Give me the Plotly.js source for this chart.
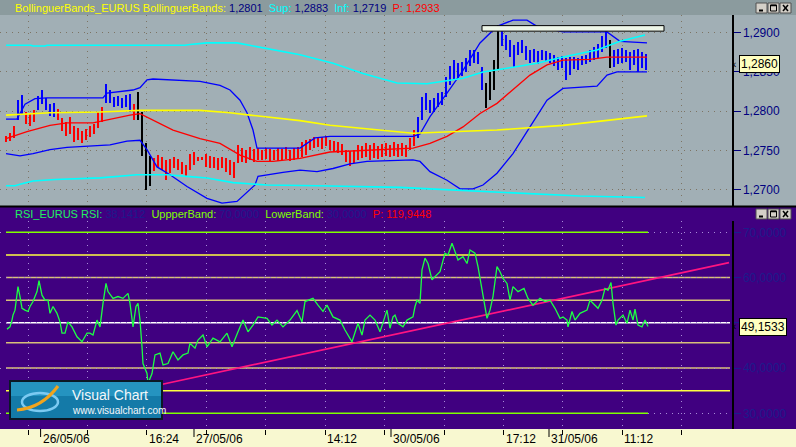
<!DOCTYPE html>
<html><head><meta charset="utf-8">
<script src="https://cdn.plot.ly/plotly-3.0.1.min.js"></script>
<style>html,body{margin:0;padding:0;background:#f8f8d0;overflow:hidden}#chart{width:796px;height:447px}</style>
</head><body><div id="chart"></div>
<script>
// ---------------- DATA ----------------
// price bars, one sample every 4 bars (x = bar number)
const barStep = 4;
const priceHigh = [
1.2768,1.2772,1.2781,1.2814,1.2821,1.2799,1.2798,1.2802,1.2819,1.2827,
1.2817,1.2809,1.2810,1.2803,1.2791,1.2786,1.2793,1.2781,1.2779,1.2775,
1.2777,1.2781,1.2784,1.2799,1.2805,1.2835,1.2827,1.2818,1.2819,1.2817,
1.2821,1.2822,1.2809,1.2824,1.2799,1.2759,1.2743,1.2740,1.2744,1.2742,
1.2738,1.2739,1.2742,1.2739,1.2735,1.2731,1.2745,1.2748,1.2742,1.2742,
1.2745,1.2743,1.2742,1.2740,1.2742,1.2740,1.2738,1.2735,1.2757,1.2753,
1.2751,1.2754,1.2752,1.2753,1.2751,1.2753,1.2752,1.2751,1.2753,1.2752,
1.2754,1.2751,1.2753,1.2754,1.2761,1.2763,1.2765,1.2767,1.2766,1.2767,
1.2768,1.2763,1.2762,1.2761,1.2758,1.2751,1.2749,1.2751,1.2757,1.2756,
1.2759,1.2757,1.2759,1.2756,1.2758,1.2759,1.2757,1.2761,1.2758,1.2759,
1.2757,1.2766,1.2776,1.2793,1.2818,1.2823,1.2814,1.2817,1.2823,1.2824,
1.2844,1.2858,1.2865,1.2861,1.2863,1.2868,1.2878,1.2878,1.2875,1.2856,
1.2836,1.2850,1.2865,1.2910,1.2903,1.2897,1.2891,1.2884,1.2888,1.2891,
1.2883,1.2878,1.2879,1.2877,1.2878,1.2877,1.2874,1.2872,1.2869,1.2870,
1.2868,1.2869,1.2869,1.2868,1.2870,1.2872,1.2878,1.2882,1.2886,1.2896,
1.2903,1.2891,1.2878,1.2879,1.2881,1.2878,1.2875,1.2878,1.2879,1.2875,
1.2873];
const priceLow = [
1.2761,1.2762,1.2766,1.2789,1.2796,1.2784,1.2781,1.2786,1.2802,1.2809,
1.2802,1.2794,1.2793,1.2789,1.2775,1.2768,1.2771,1.2761,1.2763,1.2759,
1.2763,1.2767,1.2771,1.2779,1.2786,1.2810,1.2810,1.2805,1.2807,1.2804,
1.2805,1.2799,1.2789,1.2789,1.2743,1.2700,1.2705,1.2724,1.2729,1.2725,
1.2712,1.2721,1.2728,1.2725,1.2720,1.2717,1.2725,1.2731,1.2737,1.2738,
1.2729,1.2728,1.2728,1.2725,1.2728,1.2723,1.2719,1.2715,1.2734,1.2735,
1.2734,1.2738,1.2735,1.2738,1.2738,1.2739,1.2737,1.2738,1.2737,1.2738,
1.2739,1.2737,1.2738,1.2740,1.2742,1.2744,1.2751,1.2753,1.2754,1.2752,
1.2756,1.2751,1.2748,1.2747,1.2744,1.2735,1.2730,1.2734,1.2738,1.2740,
1.2742,1.2738,1.2740,1.2739,1.2742,1.2743,1.2742,1.2743,1.2742,1.2743,
1.2742,1.2751,1.2756,1.2766,1.2789,1.2802,1.2798,1.2799,1.2805,1.2808,
1.2818,1.2833,1.2840,1.2842,1.2845,1.2850,1.2858,1.2861,1.2860,1.2827,
1.2804,1.2814,1.2827,1.2852,1.2883,1.2878,1.2869,1.2856,1.2872,1.2874,
1.2865,1.2861,1.2863,1.2860,1.2865,1.2864,1.2861,1.2858,1.2852,1.2855,
1.2840,1.2846,1.2854,1.2852,1.2859,1.2860,1.2863,1.2865,1.2868,1.2875,
1.2881,1.2855,1.2856,1.2860,1.2861,1.2863,1.2852,1.2859,1.2850,1.2855,
1.2852];

// Bollinger middle (red)
const midX = [0,21,44,61,87,104,124,134,147,167,194,214,234,251,267,294,324,354,407,424,441,457,474,491,507,524,541,557,584,601,624,641];
const midY = [1.2765,1.2774,1.2782,1.2785,1.2785,1.2790,1.2795,1.2797,1.2789,1.2776,1.2765,1.2759,1.2744,1.2736,1.2736,1.2740,1.2748,1.2750,1.2753,1.2759,1.2768,1.2780,1.2797,1.2810,1.2827,1.2846,1.2859,1.2865,1.2866,1.2869,1.2869,1.2869];
// Bollinger upper (blue)
const upX = [0,11,19,29,41,97,101,127,134,141,147,194,214,224,234,241,247,251,294,309,324,407,414,424,441,457,474,491,507,521,531,557,601,614,641];
const upY = [1.2790,1.2790,1.2809,1.2816,1.2817,1.2817,1.2823,1.2827,1.2830,1.2840,1.2841,1.2838,1.2833,1.2827,1.2814,1.2798,1.2776,1.2753,1.2753,1.2766,1.2768,1.2768,1.2771,1.2793,1.2823,1.2852,1.2887,1.2908,1.2916,1.2916,1.2908,1.2901,1.2901,1.2889,1.2887];
// Bollinger lower (blue)
const loX = [0,14,27,37,44,61,81,104,121,134,141,151,164,181,201,216,231,241,249,252,261,277,294,311,327,344,361,407,414,424,441,454,467,477,491,507,524,541,557,591,601,611,641];
const loY = [1.2746,1.2743,1.2746,1.2749,1.2751,1.2754,1.2755,1.2757,1.2762,1.2763,1.2751,1.2729,1.2719,1.2704,1.2689,1.2683,1.2685,1.2696,1.2706,1.2717,1.2719,1.2722,1.2725,1.2723,1.2727,1.2733,1.2736,1.2738,1.2736,1.2723,1.2712,1.2701,1.2701,1.2706,1.2721,1.2746,1.2780,1.2814,1.2829,1.2832,1.2846,1.2850,1.2850];
// long average (yellow)
const longX = [0,19,44,94,134,194,224,244,294,324,407,491,557,641];
const longY = [1.2795,1.2796,1.2798,1.2799,1.2801,1.2801,1.2798,1.2795,1.2788,1.2782,1.2772,1.2776,1.2782,1.2794];
// envelope (cyan)
const envUpX = [0,25,27,39,41,179,184,201,231,261,294,327,357,391,421,457,477,507,531,557,591,614,639];
const envUpY = [1.2884,1.2884,1.2883,1.2883,1.2884,1.2884,1.2885,1.2887,1.2887,1.2880,1.2872,1.2861,1.2848,1.2836,1.2835,1.2842,1.2850,1.2856,1.2861,1.2869,1.2878,1.2889,1.2897];
const envLoX = [0,9,14,27,49,94,131,161,181,201,227,261,311,394,424,494,574,639];
const envLoY = [1.2705,1.2705,1.2707,1.2711,1.2713,1.2715,1.2719,1.2719,1.2717,1.2715,1.2709,1.2706,1.2705,1.2703,1.2701,1.2697,1.2692,1.2690];

// RSI
const rsiX = [
1,4,6,7,9,11,12,14,16,19,
22,24,27,31,33,36,39,42,44,47,
51,54,56,59,62,66,71,76,81,84,
87,91,94,97,100,102,107,112,117,122,
124,127,130,132,134,136,137,141,142,146,
149,154,157,162,167,172,177,182,184,189,
192,197,201,207,214,221,226,232,237,242,
247,252,261,266,271,277,284,291,296,299,
307,312,317,321,327,334,339,346,352,356,
359,364,369,374,379,381,384,387,389,392,
397,401,407,409,411,414,416,419,422,426,
429,434,439,442,446,449,452,457,461,464,
469,472,476,479,481,484,487,491,494,497,
501,504,507,512,518,522,527,534,539,544,
549,554,557,561,562,566,569,574,581,584,
589,592,596,599,602,605,607,610,612,617,
621,624,627,629,632,636,639,642];
const rsiY = [
48.6,49.1,50.6,51.7,52.8,57.2,58.0,55.8,53.2,52.8,
52.5,53.6,54.7,56.9,59.3,56.1,55.0,55.0,52.1,53.6,
52.1,50.2,47.7,47.7,50.2,49.1,46.9,45.8,47.7,47.7,
47.3,50.6,49.1,54.3,58.7,56.9,55.4,55.8,55.4,56.5,
54.3,49.1,53.6,54.3,50.6,44.7,41.0,38.8,36.6,38.8,
42.9,43.3,40.7,41.0,43.6,41.8,42.9,43.3,45.5,44.4,
46.2,47.3,44.7,46.6,45.8,47.7,44.7,48.0,50.6,48.0,
49.5,51.3,51.0,49.5,50.6,49.1,50.6,52.7,50.2,54.7,
55.4,53.9,52.5,53.9,51.3,50.6,48.4,45.8,49.9,47.3,
50.6,51.7,50.6,48.0,51.5,52.8,48.8,51.3,51.7,49.9,
49.1,50.6,51.3,53.6,55.0,54.3,61.7,64.3,63.1,59.5,
60.2,61.3,65.4,65.0,67.6,65.7,63.9,64.6,63.1,66.1,
65.4,62.4,57.2,53.6,51.0,52.8,55.8,62.4,61.3,59.8,
58.7,55.0,58.0,56.9,57.6,55.4,53.9,55.4,54.7,55.0,
53.2,51.0,51.3,50.6,49.1,52.5,50.6,52.1,52.8,55.0,
53.9,53.2,55.0,57.6,57.2,58.9,54.3,49.5,50.6,51.7,
49.9,52.8,50.6,53.0,49.5,49.1,50.6,49.2];
const rsiBandX = [0, 642];
const rsiUpperBand = 70, rsiLowerBand = 30;
const rsiLevels = [65, 60, 55, 50, 45.6, 40, 35];
const rsiLevelX = [0, 724];
const trendX = [139, 723];
const trendY = [35.6, 63.3];
const boxX = [476, 658];
const boxY = [1.2902, 1.2909];

const priceTicks = [1.27, 1.275, 1.28, 1.285, 1.29];
const rsiTicks = [30, 40, 50, 60, 70];
const gridTicks = [22.3, 81.3, 140.7, 200, 259.7, 319, 378.3, 438, 497.5, 556.9, 616.3, 675.3];
const dayTicks = [34.6, 188, 385, 543];
const labelPos = [34.6, 140.7, 188, 319, 385, 497.5, 543, 616.3];
const labelText = ['26/05/06', '16:24', '27/05/06', '14:12', '30/05/06', '17:12', '31/05/06', '11:12'];
const lastPrice = 1.2860, lastRsi = 49.1533;
const topHeader = {name: 'BollinguerBands_EURUS BollinguerBands:', mid: '1,2801', sup: '1,2883', inf: '1,2719', p: '1,2933'};
const rsiHeader = {name: 'RSI_EURUS RSI:', rsi: '38,1412', up: '70,0000', low: '30,0000', p: '119,9448'};

// ---------------- DRAWING ----------------
const W = 796, H = 447;
const PX = x => x / W;
const PY = y => 1 - y / H;
const FONT = 'Liberation Sans, Arial, sans-serif';

function interp(xs, ys, x) {
  if (x <= xs[0]) return ys[0];
  for (let i = 1; i < xs.length; i++) {
    if (x <= xs[i]) { const t = (x - xs[i-1]) / (xs[i] - xs[i-1]); return ys[i-1] + t * (ys[i] - ys[i-1]); }
  }
  return ys[ys.length - 1];
}
const barX = priceHigh.map((_, i) => i * barStep);
// bar colour: blue above the long (yellow) average, red below, black for very wide bars
const barColors = priceHigh.map((h, i) => {
  const l = priceLow[i];
  if (h - l > 0.0030) return '#000000';
  return ((h + l) / 2 > interp(longX, longY, barX[i])) ? '#0000ff' : '#ff0000';
});

const traces = [
  {type: 'bar', x: barX, y: priceHigh.map((h, i) => h - priceLow[i]), base: priceLow, width: 2.8,
   marker: {color: barColors, line: {width: 0}}, xaxis: 'x', yaxis: 'y', hoverinfo: 'skip'},
  {type: 'scatter', mode: 'lines', x: upX, y: upY, line: {color: '#0000ff', width: 1.3}, xaxis: 'x', yaxis: 'y'},
  {type: 'scatter', mode: 'lines', x: loX, y: loY, line: {color: '#0000ff', width: 1.3}, xaxis: 'x', yaxis: 'y'},
  {type: 'scatter', mode: 'lines', x: midX, y: midY, line: {color: '#ff0000', width: 1.3}, xaxis: 'x', yaxis: 'y'},
  {type: 'scatter', mode: 'lines', x: longX, y: longY, line: {color: '#ffff00', width: 1.6}, xaxis: 'x', yaxis: 'y'},
  {type: 'scatter', mode: 'lines', x: envUpX, y: envUpY, line: {color: '#00ffff', width: 1.6}, xaxis: 'x', yaxis: 'y'},
  {type: 'scatter', mode: 'lines', x: envLoX, y: envLoY, line: {color: '#00ffff', width: 1.6}, xaxis: 'x', yaxis: 'y'},
  {type: 'scatter', mode: 'lines', x: trendX, y: trendY, line: {color: '#ff1480', width: 1.6}, xaxis: 'x2', yaxis: 'y2'},
  {type: 'scatter', mode: 'lines', x: rsiBandX, y: [rsiUpperBand, rsiUpperBand], line: {color: '#80ff00', width: 1.6}, xaxis: 'x2', yaxis: 'y2'},
  {type: 'scatter', mode: 'lines', x: rsiBandX, y: [rsiLowerBand, rsiLowerBand], line: {color: '#80ff00', width: 1.6}, xaxis: 'x2', yaxis: 'y2'},
  {type: 'scatter', mode: 'lines', x: rsiX, y: rsiY, line: {color: '#1cff44', width: 1.3}, xaxis: 'x2', yaxis: 'y2'}
];

const levelColor = v => (v === 50 ? '#ffffff' : (v === 65 || v === 35) ? '#ffff40' : '#d8c078');

const shapes = [
  {type: 'rect', xref: 'paper', yref: 'paper', x0: 0, x1: 1, y0: PY(206), y1: 1, fillcolor: '#a1afb5', line: {width: 0}, layer: 'below'},
  {type: 'rect', xref: 'paper', yref: 'paper', x0: 0, x1: 1, y0: PY(15), y1: 1, fillcolor: '#8b9b9e', line: {width: 0}, layer: 'below'},
  {type: 'rect', xref: 'paper', yref: 'paper', x0: 0, x1: 1, y0: PY(429), y1: PY(207), fillcolor: '#400080', line: {width: 0}, layer: 'below'},
  {type: 'line', xref: 'paper', yref: 'paper', x0: 0, x1: 1, y0: PY(206.5), y1: PY(206.5), line: {color: '#000000', width: 2}, layer: 'below'}
];
rsiLevels.forEach(v => shapes.push({type: 'line', xref: 'x2', yref: 'y2', x0: rsiLevelX[0], x1: rsiLevelX[1], y0: v, y1: v,
  line: {color: levelColor(v), width: 1.5}, layer: 'below'}));
shapes.push({type: 'rect', xref: 'x', yref: 'y', x0: boxX[0], x1: boxX[1], y0: boxY[0], y1: boxY[1], fillcolor: '#eef6e8', line: {color: '#000000', width: 1}});
dayTicks.forEach(d => shapes.push({type: 'line', xref: 'x2', yref: 'paper', x0: d, x1: d, y0: PY(429), y1: PY(437), line: {color: '#000000', width: 1}}));

function buttons(y0) {
  [756, 768, 780].forEach((bx, k) => {
    shapes.push({type: 'rect', xref: 'paper', yref: 'paper', x0: PX(bx), x1: PX(bx + 11), y0: PY(y0 + 10), y1: PY(y0), fillcolor: '#d4d0c8', line: {color: '#505050', width: 1}});
    if (k === 0) shapes.push({type: 'line', xref: 'paper', yref: 'paper', x0: PX(bx + 3), x1: PX(bx + 7), y0: PY(y0 + 7.5), y1: PY(y0 + 7.5), line: {color: '#000', width: 2}});
    if (k === 1) {
      shapes.push({type: 'rect', xref: 'paper', yref: 'paper', x0: PX(bx + 2.5), x1: PX(bx + 8.5), y0: PY(y0 + 8), y1: PY(y0 + 2), line: {color: '#000', width: 1}});
      shapes.push({type: 'line', xref: 'paper', yref: 'paper', x0: PX(bx + 2.5), x1: PX(bx + 8.5), y0: PY(y0 + 2.5), y1: PY(y0 + 2.5), line: {color: '#000', width: 1.5}});
    }
    if (k === 2) {
      shapes.push({type: 'line', xref: 'paper', yref: 'paper', x0: PX(bx + 3), x1: PX(bx + 8), y0: PY(y0 + 2), y1: PY(y0 + 8), line: {color: '#000', width: 1.5}});
      shapes.push({type: 'line', xref: 'paper', yref: 'paper', x0: PX(bx + 8), x1: PX(bx + 3), y0: PY(y0 + 2), y1: PY(y0 + 8), line: {color: '#000', width: 1.5}});
    }
  });
}
buttons(3);
buttons(209);

// logo
shapes.push({type: 'rect', xref: 'paper', yref: 'paper', x0: PX(10), x1: PX(162), y0: PY(419), y1: PY(381), fillcolor: '#147aa8', line: {color: '#0b1826', width: 2}});
shapes.push({type: 'rect', xref: 'paper', yref: 'paper', x0: PX(11), x1: PX(161), y0: PY(396), y1: PY(382), fillcolor: '#2593c0', line: {width: 0}});
shapes.push({type: 'circle', xref: 'paper', yref: 'paper', x0: PX(22), x1: PX(58), y0: PY(411), y1: PY(393), line: {color: '#7ccaf2', width: 2.5}});
shapes.push({type: 'path', xref: 'paper', yref: 'paper',
  path: `M ${PX(17)} ${PY(410)} Q ${PX(42)} ${PY(408)} ${PX(58)} ${PY(386)}`, line: {color: '#f2a41c', width: 3}});

const fmt = v => v.toFixed(4).replace('.', ',');
const annotations = [
  {xref: 'paper', yref: 'paper', x: PX(13), y: PY(7.5), xanchor: 'left', yanchor: 'middle', showarrow: false,
   font: {family: FONT, size: 11, color: '#ffff00'},
   text: `<span style="color:#ffff00">${topHeader.name}</span> <span style="color:#000080">${topHeader.mid}</span>  <span style="color:#00ffff">Sup:</span> <span style="color:#000080">${topHeader.sup}</span>  <span style="color:#00ffff">Inf:</span> <span style="color:#000080">${topHeader.inf}</span>  <span style="color:#ff0000">P: ${topHeader.p}</span>`},
  {xref: 'paper', yref: 'paper', x: PX(13), y: PY(214), xanchor: 'left', yanchor: 'middle', showarrow: false,
   font: {family: FONT, size: 11, color: '#20f060'},
   text: `<span style="color:#20f060">${rsiHeader.name}</span> <span style="color:#1c1c8c">${rsiHeader.rsi}</span>  <span style="color:#80ff00">UppperBand:</span> <span style="color:#1c1c8c">${rsiHeader.up}</span>  <span style="color:#80ff00">LowerBand:</span> <span style="color:#1c1c8c">${rsiHeader.low}</span>  <span style="color:#ff0000">P: ${rsiHeader.p}</span>`},
  {xref: 'paper', yref: 'y', x: PX(739), y: lastPrice, xanchor: 'left', yanchor: 'middle', showarrow: false,
   text: fmt(lastPrice), bgcolor: '#ffffc0', bordercolor: '#000000', borderwidth: 1, borderpad: 1,
   font: {family: FONT, size: 12, color: '#000000'}},
  {xref: 'paper', yref: 'y2', x: PX(739), y: lastRsi, xanchor: 'left', yanchor: 'middle', showarrow: false,
   text: fmt(lastRsi), bgcolor: '#ffffc0', bordercolor: '#000000', borderwidth: 1, borderpad: 1,
   font: {family: FONT, size: 12, color: '#000000'}},
  {xref: 'paper', yref: 'y', x: PX(738), y: lastPrice, xanchor: 'right', yanchor: 'middle', showarrow: false,
   text: '‹', font: {family: FONT, size: 10, color: '#000000'}},
  {xref: 'paper', yref: 'y2', x: PX(738), y: lastRsi, xanchor: 'right', yanchor: 'middle', showarrow: false,
   text: '‹', font: {family: FONT, size: 10, color: '#000000'}},
  {xref: 'paper', yref: 'paper', x: PX(70), y: PY(395), xanchor: 'left', yanchor: 'middle', showarrow: false,
   text: 'Visual Chart', font: {family: FONT, size: 14, color: '#f4f8fa'}},
  {xref: 'paper', yref: 'paper', x: PX(70), y: PY(410), xanchor: 'left', yanchor: 'middle', showarrow: false,
   text: 'www.visualchart.com', font: {family: FONT, size: 10, color: '#f4f8fa'}}
];
labelPos.forEach((p, i) => annotations.push({xref: 'x2', yref: 'paper', x: p, y: PY(447), xanchor: 'left', yanchor: 'bottom',
  xshift: 1, borderpad: 0, showarrow: false, text: labelText[i], font: {family: FONT, size: 12, color: '#000000'}}));

const xDom = [0, 732 / W];
const xRange = [-6, 726];
const layout = {
  width: W, height: H, margin: {l: 0, r: 0, t: 0, b: 0},
  paper_bgcolor: '#f8f8d0', plot_bgcolor: 'rgba(0,0,0,0)', showlegend: false,
  separators: ',.', bargap: 0, hovermode: false,
  xaxis: {domain: xDom, range: xRange, anchor: 'y', tickmode: 'array', tickvals: gridTicks, showticklabels: false,
    ticks: '', showgrid: true, gridcolor: '#7d7464', griddash: '1px,5px', gridwidth: 1, zeroline: false, showline: false, fixedrange: true},
  xaxis2: {domain: xDom, range: xRange, anchor: 'y2', tickmode: 'array', tickvals: gridTicks, showticklabels: false,
    ticks: 'outside', ticklen: 5, tickcolor: '#000000', tickwidth: 1, showgrid: true, gridcolor: '#a88cd8',
    griddash: '1px,5px', gridwidth: 1, zeroline: false, showline: false, fixedrange: true},
  yaxis: {domain: [PY(206), PY(15)], range: [1.267923, 1.292255], anchor: 'x', side: 'right', tickmode: 'array',
    tickvals: priceTicks, tickformat: '.4f', ticks: 'outside', ticklen: 7, tickcolor: '#000080', tickwidth: 1,
    tickfont: {family: FONT, size: 12, color: '#000080'}, showgrid: true, gridcolor: '#7d7464', griddash: '1px,5px',
    showline: true, linecolor: '#000000', linewidth: 1.5, zeroline: false, fixedrange: true},
  yaxis2: {domain: [PY(429), PY(221)], range: [26.53, 72.5], anchor: 'x2', side: 'right', tickmode: 'array',
    tickvals: rsiTicks, tickformat: '.4f', ticks: 'outside', ticklen: 7, tickcolor: '#1c1c8c', tickwidth: 1,
    tickfont: {family: FONT, size: 12, color: '#1c1c8c'}, showgrid: true, gridcolor: '#a88cd8', griddash: '1px,5px',
    showline: true, linecolor: '#000000', linewidth: 1.5, zeroline: false, fixedrange: true},
  shapes: shapes,
  annotations: annotations
};
Plotly.newPlot('chart', traces, layout, {staticPlot: true, displayModeBar: false});
</script>
</body></html>
